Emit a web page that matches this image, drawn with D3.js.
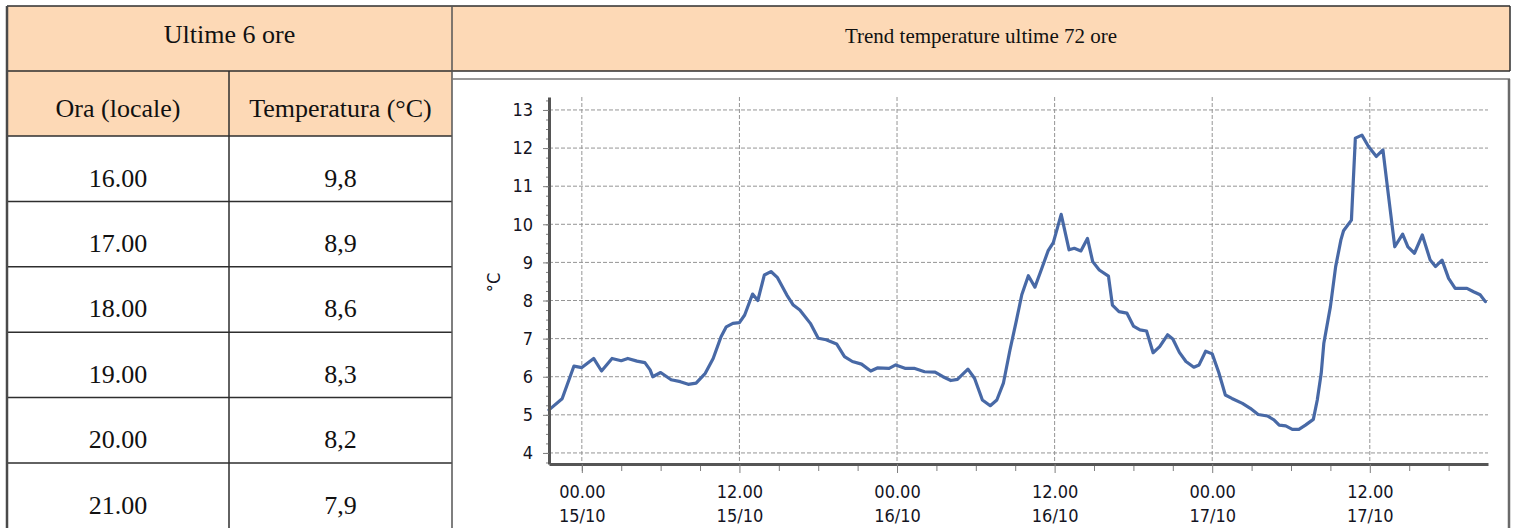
<!DOCTYPE html>
<html>
<head>
<meta charset="utf-8">
<script src="https://cdn.jsdelivr.net/npm/d3@7"></script>
<style>
  body { margin: 0; background: #fff; overflow: hidden; }
  .cell-text { font-family: "Liberation Serif", "Times New Roman", serif; fill: #111; }
  .axis text { font-family: "DejaVu Sans Condensed", "DejaVu Sans", sans-serif; font-stretch: condensed; font-size: 18px; fill: #14141f; }
  .axis .domain { stroke: #555; stroke-width: 3; }
  .axis .tick line { stroke: #7e7e7e; }
  .grid line { stroke: #959595; stroke-dasharray: 4,2; }
</style>
</head>
<body>
<div id="chart"></div>
<script>
// tabella ultime 6 ore
var ore = ["16.00", "17.00", "18.00", "19.00", "20.00", "21.00"];
var temperature = ["9,8", "8,9", "8,6", "8,3", "8,2", "7,9"];

// trend: ore dalle 00.00 del 15/10, temperature in gradi
var trend_ore = [-2.5,-1.5,-0.6,0,0.9,1.5,2.3,3,3.5,4.2,4.8,5.2,5.4,6,6.8,7.5,8.1,8.7,9.4,10,
  10.6,11,11.5,12,12.4,13,13.4,13.9,14.4,14.9,15.6,16.1,16.6,17.4,18,18.6,19.4,20,20.6,21.3,
  22,22.5,23.4,23.9,24.6,25.3,26.1,26.9,27.5,28.1,28.6,29.4,29.9,30.5,31.1,31.6,32.1,32.6,33.1,33.5,
  34,34.5,35,35.5,35.9,36.5,37.1,37.5,38,38.5,38.9,39.4,40.1,40.4,40.9,41.5,42,42.5,43,43.5,
  44,44.6,45,45.5,46,46.6,47,47.5,48,48.5,49,49.5,50.3,50.9,51.5,52.2,52.7,53.1,53.6,54.1,
  54.6,55.1,55.7,56,56.3,56.5,57,57.4,57.8,58,58.6,58.9,59.4,59.9,60.5,61,61.4,61.9,62.5,62.9,
  63.4,64,64.6,65,65.5,66,66.5,67.4,67.9,68.4,68.8];
var trend_temp = [5.13,5.42,6.28,6.24,6.48,6.15,6.48,6.42,6.48,6.41,6.37,6.18,6.0,6.11,5.92,5.87,5.80,5.83,6.09,6.48,
  7.05,7.31,7.40,7.42,7.62,8.17,8.00,8.67,8.76,8.60,8.15,7.88,7.75,7.40,7.01,6.97,6.86,6.53,6.40,6.33,
  6.15,6.23,6.22,6.31,6.22,6.22,6.13,6.12,6.0,5.90,5.93,6.20,5.96,5.39,5.24,5.39,5.83,6.70,7.49,8.15,
  8.65,8.35,8.82,9.30,9.52,10.26,9.33,9.37,9.30,9.63,9.02,8.80,8.64,7.88,7.71,7.67,7.33,7.23,7.20,6.63,
  6.79,7.10,6.99,6.64,6.40,6.25,6.31,6.67,6.60,6.11,5.52,5.43,5.30,5.17,5.01,4.97,4.87,4.73,4.71,4.62,
  4.62,4.73,4.88,5.39,6.09,6.88,7.84,8.89,9.59,9.83,10.11,12.26,12.34,12.04,11.78,11.95,10.81,9.41,9.74,9.41,
  9.24,9.72,9.06,8.89,9.06,8.58,8.32,8.32,8.23,8.15,7.97];

var y_ticks = [4, 5, 6, 7, 8, 9, 10, 11, 12, 13];
var x_major_ore = [0, 12, 24, 36, 48, 60];
var x_minor_ore = [-0, 3, 6, 9, 15, 18, 21, 27, 30, 33, 39, 42, 45, 51, 54, 57, 63, 66];
var x_range_ore = [-2.5, 69];

var W = 1519, H = 528,
    top_y = 6, head_h = 65, row_h = 65.4,
    left_x = 7, col_x = 229, split_x = 452, right_x = 1510,
    peach = "#fdd9b6", border = "#2e2e2e";

var base = new Date(2000, 9, 15, 0, 0);
function hour_date(h) { return new Date(base.getTime() + h * 3600e3); }

var svg = d3.select('#chart')
    .append('svg')
    .attr('width', W)
    .attr('height', H);

// ---- tabella
var row2_y = top_y + head_h,
    body_y = row2_y + head_h;

svg.append('rect')
  .attr('x', left_x).attr('y', top_y)
  .attr('width', right_x - left_x).attr('height', head_h)
  .attr('fill', peach);
svg.append('rect')
  .attr('x', left_x).attr('y', row2_y)
  .attr('width', split_x - left_x).attr('height', head_h)
  .attr('fill', peach);

svg.append('text')
  .attr('class', 'cell-text')
  .attr('x', (left_x + split_x) / 2).attr('y', top_y + 37)
  .attr('text-anchor', 'middle').style('font-size', '26px')
  .text('Ultime 6 ore');
svg.append('text')
  .attr('class', 'cell-text')
  .attr('x', (split_x + right_x) / 2).attr('y', top_y + 37)
  .attr('text-anchor', 'middle').style('font-size', '21px')
  .text('Trend temperature ultime 72 ore');
svg.append('text')
  .attr('class', 'cell-text')
  .attr('x', (left_x + col_x) / 2).attr('y', row2_y + 46)
  .attr('text-anchor', 'middle').style('font-size', '26px')
  .text('Ora (locale)');
svg.append('text')
  .attr('class', 'cell-text')
  .attr('x', (col_x + split_x) / 2).attr('y', row2_y + 46)
  .attr('text-anchor', 'middle').style('font-size', '26px')
  .text('Temperatura (°C)');

var rows = svg.append('g').selectAll('g')
    .data(ore)
    .join('g')
    .attr('transform', function(d, i) { return 'translate(0,' + (body_y + i * row_h) + ')'; });

rows.append('line')
  .attr('x1', left_x).attr('x2', split_x)
  .attr('y1', 0).attr('y2', 0)
  .attr('stroke', border).attr('stroke-width', 1.5);
rows.append('text')
  .attr('class', 'cell-text')
  .attr('x', (left_x + col_x) / 2).attr('y', 50.5)
  .attr('text-anchor', 'middle').style('font-size', '26px')
  .text(function(d) { return d; });
rows.append('text')
  .attr('class', 'cell-text')
  .attr('x', (col_x + split_x) / 2).attr('y', 50.5)
  .attr('text-anchor', 'middle').style('font-size', '26px')
  .text(function(d, i) { return temperature[i]; });

// bordi
svg.append('line').attr('x1', left_x).attr('x2', right_x).attr('y1', top_y).attr('y2', top_y)
  .attr('stroke', border).attr('stroke-width', 1.5);
svg.append('line').attr('x1', left_x).attr('x2', right_x).attr('y1', row2_y).attr('y2', row2_y)
  .attr('stroke', border).attr('stroke-width', 1.5);
svg.append('line').attr('x1', left_x).attr('x2', left_x).attr('y1', top_y).attr('y2', H)
  .attr('stroke', '#4a4a4a').attr('stroke-width', 2.5);
svg.append('line').attr('x1', col_x).attr('x2', col_x).attr('y1', row2_y).attr('y2', H)
  .attr('stroke', border).attr('stroke-width', 1.5);
svg.append('line').attr('x1', split_x).attr('x2', split_x).attr('y1', top_y).attr('y2', H)
  .attr('stroke', '#555').attr('stroke-width', 1.5);
svg.append('line').attr('x1', right_x).attr('x2', right_x).attr('y1', top_y).attr('y2', row2_y)
  .attr('stroke', border).attr('stroke-width', 1.5);
svg.append('line').attr('x1', split_x).attr('x2', right_x).attr('y1', 79).attr('y2', 79)
  .attr('stroke', '#777').attr('stroke-width', 1.5);
svg.append('line').attr('x1', right_x - 1).attr('x2', right_x - 1).attr('y1', 79).attr('y2', H)
  .attr('stroke', '#6a6a6a').attr('stroke-width', 2.5);

// ---- grafico
var x = d3.scaleTime()
    .domain([hour_date(x_range_ore[0]), hour_date(x_range_ore[1])])
    .range([549, 1488]);
var y = d3.scaleLinear()
    .domain([3.71, 13.34])
    .range([464, 97]);

var grid = svg.append('g').attr('class', 'grid');
grid.selectAll('.gy')
  .data(y_ticks)
  .join('line')
  .attr('class', 'gy')
  .attr('x1', x.range()[0]).attr('x2', x.range()[1])
  .attr('y1', function(d) { return y(d); }).attr('y2', function(d) { return y(d); });
grid.selectAll('.gx')
  .data(x_major_ore)
  .join('line')
  .attr('class', 'gx')
  .attr('x1', function(d) { return x(hour_date(d)); }).attr('x2', function(d) { return x(hour_date(d)); })
  .attr('y1', y.range()[1]).attr('y2', y.range()[0]);

var line = d3.line()
    .x(function(d, i) { return x(hour_date(d)); })
    .y(function(d, i) { return y(trend_temp[i]); });

svg.append('path')
  .datum(trend_ore)
  .attr('d', line)
  .attr('fill', 'none')
  .attr('stroke', '#4869a6')
  .attr('stroke-width', 3.2)
  .attr('stroke-linejoin', 'round')
  .attr('stroke-linecap', 'round');

// asse y
svg.append('g')
  .attr('class', 'axis')
  .attr('transform', 'translate(549,0)')
  .call(d3.axisLeft(y).tickValues(d3.range(3.75, 13.34, 0.25)).tickSize(3).tickSizeOuter(0).tickFormat(''))
  .select('.domain').remove();
svg.append('g')
  .attr('class', 'axis')
  .attr('transform', 'translate(549,0)')
  .call(d3.axisLeft(y).tickValues(y_ticks).tickSize(6).tickPadding(10).tickSizeOuter(0));

// asse x
var fmt_ora = d3.timeFormat('%H.%M'),
    fmt_giorno = d3.timeFormat('%d/%m');

svg.append('g')
  .attr('class', 'axis')
  .attr('transform', 'translate(0,464)')
  .call(d3.axisBottom(x).tickValues(x_minor_ore.map(hour_date)).tickSize(7).tickSizeOuter(0).tickFormat(''))
  .select('.domain').remove();

var x_axis = svg.append('g')
  .attr('class', 'axis')
  .attr('transform', 'translate(0,464)')
  .call(d3.axisBottom(x).tickValues(x_major_ore.map(hour_date)).tickSize(9).tickSizeOuter(0));

x_axis.selectAll('.tick text')
  .text(null)
  .attr('y', 0).attr('dy', null)
  .each(function(d) {
    var t = d3.select(this);
    t.append('tspan').attr('x', 0).attr('y', 34).text(fmt_ora(d));
    t.append('tspan').attr('x', 0).attr('y', 57.5).text(fmt_giorno(d));
  });

svg.append('text')
  .attr('class', 'axis-title')
  .attr('transform', 'translate(500,282.5) rotate(-90)')
  .attr('text-anchor', 'middle')
  .style('font-family', '"DejaVu Sans Condensed", "DejaVu Sans", sans-serif')
  .style('font-size', '18px')
  .style('fill', '#14141f')
  .text('°C');
</script>
</body>
</html>
